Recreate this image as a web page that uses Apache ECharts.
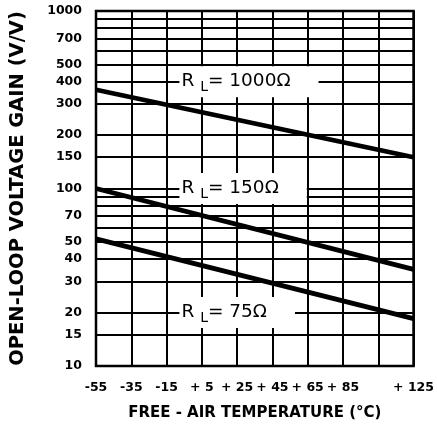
<!DOCTYPE html>
<html>
<head>
<meta charset="utf-8">
<script src="https://cdn.jsdelivr.net/npm/echarts@6/dist/echarts.min.js"></script>
<style>
html,body{margin:0;padding:0;background:#fff;}
#c{width:437px;height:432px;}
</style>
</head>
<body>
<div id="c"></div>
<script>
// ---- data ----
const temps = [-55, 125];
const gain1000 = [360, 150];
const gain150 = [100, 35];
const gain75 = [52, 18.5];

const xTicks = [-55, -35, -15, 5, 25, 45, 65, 85, 105, 125];
const xTickLabels = ['-55', '-35', '-15', '+ 5', '+ 25', '+ 45', '+ 65', '+ 85', '', '+ 125'];
const yTickValues = [10, 15, 20, 30, 40, 50, 70, 100, 150, 200, 300, 400, 500, 700, 1000];
const yGridValues = [15, 20, 30, 40, 50, 60, 70, 80, 90, 100, 150, 200, 300, 400, 500, 600, 700, 800, 900];

const labelNames = ['1000\u03A9', '150\u03A9', '75\u03A9'];
const labelTemps = [-8, -8, -8];
const labelGains = [400, 100, 20];

// ---- chart ----
const chart = echarts.init(document.getElementById('c'), null, {renderer: 'canvas'});
const bold = 'DejaVu Sans';

function curve(vals) {
  return {
    type: 'line',
    data: temps.map((t, i) => [t, vals[i]]),
    symbol: 'none',
    lineStyle: {color: '#000', width: 4.8},
    silent: true,
    z: 5
  };
}

const option = {
  animation: false,
  backgroundColor: '#fff',
  grid: {left: 96, right: 18, top: 11, bottom: 66, show: true, borderColor: '#000', borderWidth: 2.5, backgroundColor: 'transparent'},
  xAxis: {
    type: 'value',
    min: -55, max: 125, interval: 20,
    name: 'FREE - AIR TEMPERATURE (\u00B0C)',
    nameLocation: 'middle',
    nameGap: 40,
    nameTextStyle: {fontFamily: bold, fontWeight: 'bold', fontSize: 15, color: '#000'},
    axisLine: {show: false},
    axisTick: {show: false},
    axisLabel: {
      fontFamily: bold, fontWeight: 'bold', fontSize: 12.5, color: '#000', margin: 15,
      formatter: v => { const i = xTicks.indexOf(v); return i >= 0 ? xTickLabels[i] : ''; }
    },
    splitLine: {show: true, lineStyle: {color: '#000', width: 2}}
  },
  yAxis: {
    type: 'log',
    logBase: 10,
    min: 10, max: 1000,
    name: 'OPEN-LOOP VOLTAGE GAIN (V/V)',
    nameLocation: 'middle',
    nameGap: 68,
    nameTextStyle: {fontFamily: bold, fontWeight: 'bold', fontSize: 19.5, color: '#000'},
    axisLine: {show: false},
    axisTick: {show: false},
    axisLabel: {
      fontFamily: bold, fontWeight: 'bold', fontSize: 12.5, color: '#000', margin: 14,
      customValues: yTickValues,
      formatter: v => String(Math.round(v))
    },
    splitLine: {show: false}
  },
  series: [
    {
      type: 'line',
      data: [],
      silent: true,
      z: 2,
      markLine: {
        silent: true,
        symbol: 'none',
        animation: false,
        label: {show: false},
        lineStyle: {color: '#000', width: 2, type: 'solid'},
        data: yGridValues.map(v => ({yAxis: v}))
      }
    },
    curve(gain1000),
    curve(gain150),
    curve(gain75),
    {
      type: 'scatter',
      data: [],
      silent: true,
      z: 10,
      markPoint: {
        silent: true,
        animation: false,
        symbol: 'rect',
        symbolSize: 1,
        itemStyle: {color: 'rgba(0,0,0,0)'},
        label: {
          show: true,
          position: 'right',
          distance: 0,
          backgroundColor: '#fff',
          padding: [3, 28, 3, 2],
          rich: {
            r: {fontFamily: 'DejaVu Sans', fontSize: 18.5, color: '#000', lineHeight: 25, verticalAlign: 'middle'},
            s: {fontFamily: 'DejaVu Sans', fontSize: 14, color: '#000', lineHeight: 14, verticalAlign: 'bottom'}
          }
        },
        data: labelNames.map((n, i) => ({
          coord: [labelTemps[i], labelGains[i]],
          label: {formatter: '{r|R }{s|L}{r|= ' + n + '}'}
        }))
      }
    }
  ]
};
chart.setOption(option);
</script>
</body>
</html>
